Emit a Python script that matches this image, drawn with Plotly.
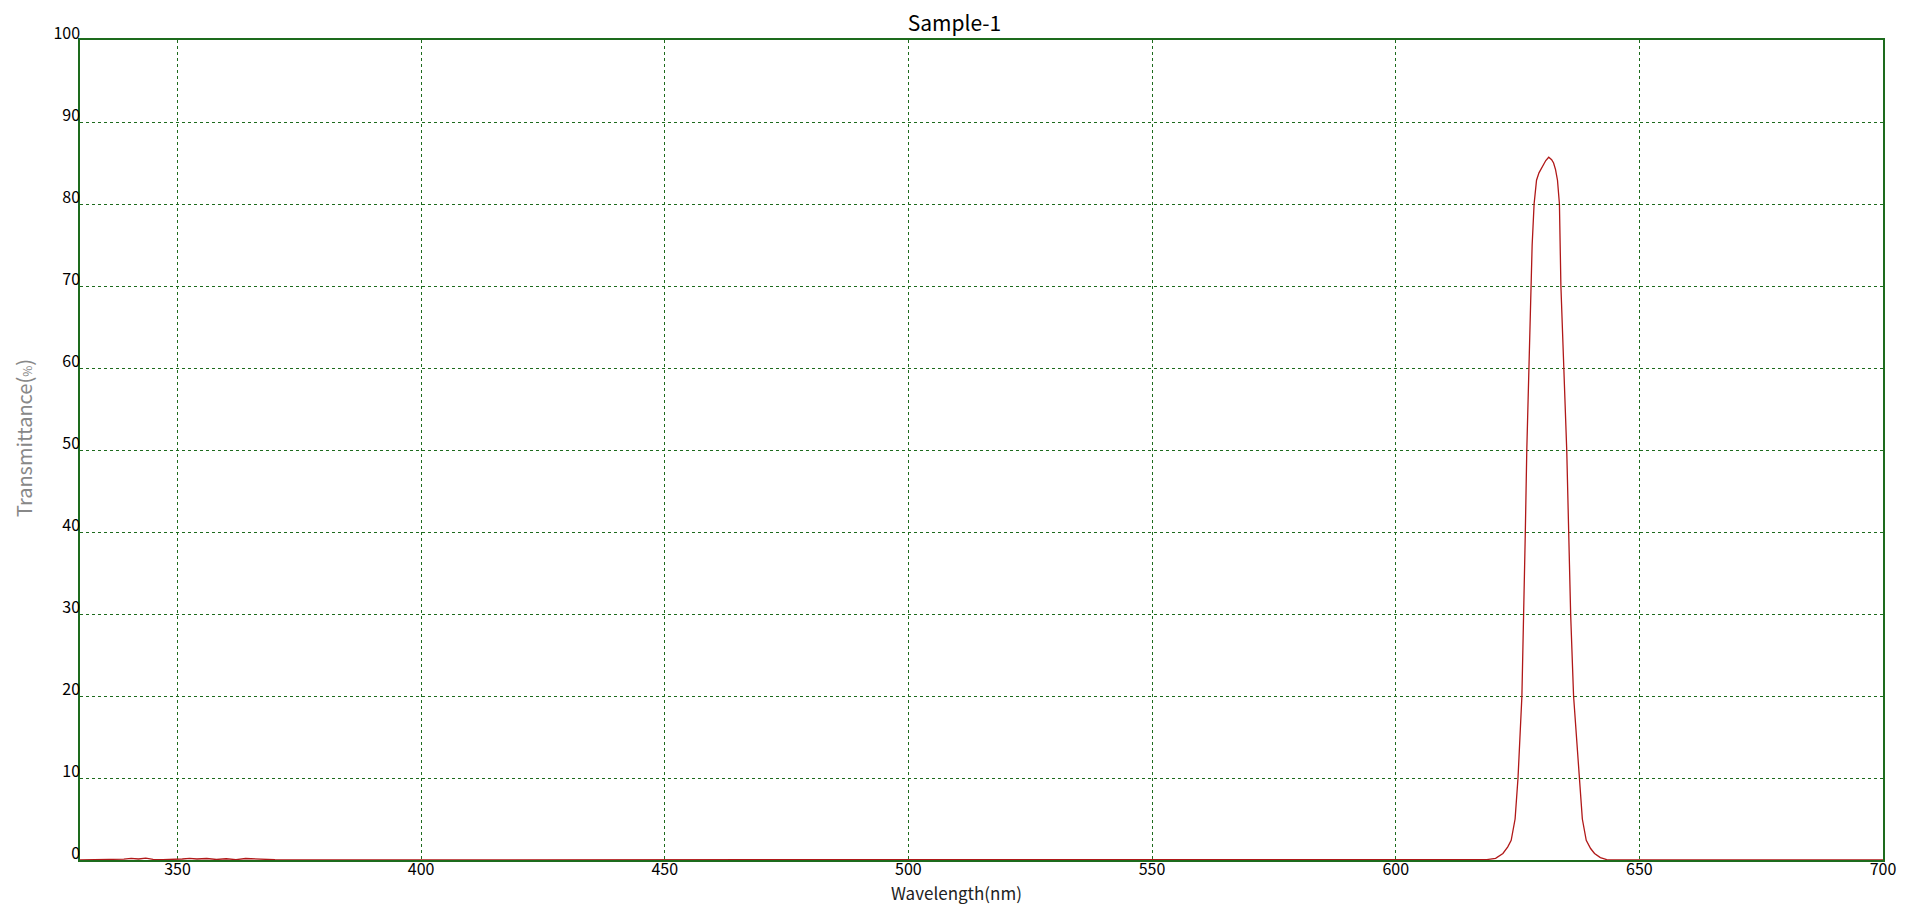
import plotly.graph_objects as go

# wavelength (nm) and transmittance (%)
wavelength = [330, 336, 339, 340.5, 342, 343.5, 345, 347, 349, 351, 352.5, 354, 356, 358, 360, 362, 364,
              366, 368, 370, 380, 450, 550, 600, 615, 618.7, 620.5, 622.0, 623.0, 623.7, 624.5,
              625.1, 625.9, 626.3, 626.6, 626.9, 627.35, 627.7, 628.0, 628.4, 628.9, 629.4, 629.9,
              630.4, 630.8, 631.4, 632.0, 632.4, 632.8, 633.2, 633.6, 633.9, 634.5, 635.1, 635.5,
              635.9, 636.5, 637.6, 638.3, 639.1, 640.0, 640.8, 642.0, 643.3, 650, 680, 700]
transmittance = [0.02, 0.03, 0.1, 0.2, 0.12, 0.22, 0.08, 0.04, 0.06, 0.12, 0.2, 0.12, 0.18, 0.06, 0.15,
                 0.04, 0.18, 0.12, 0.06, 0.03, 0.02, 0.02, 0.02, 0.02, 0.03, 0.05, 0.2, 0.8, 1.6,
                 2.4, 5, 10, 20, 30, 40, 50, 60, 70, 75, 80, 82.9, 83.8, 84.4, 84.9, 85.3, 85.7, 85.4,
                 85.0, 84.2, 82.9, 80, 70, 60, 50, 40, 30, 20, 10, 5, 2.4, 1.4, 0.8, 0.3, 0.05, 0.02,
                 0.02, 0.02]

x_ticks = [350, 400, 450, 500, 550, 600, 650, 700]
y_ticks = [0, 10, 20, 30, 40, 50, 60, 70, 80, 90, 100]

green = "#1d6b1d"
font = "Noto Sans CJK SC"

fig = go.Figure()
fig.add_trace(go.Scatter(x=wavelength, y=transmittance, mode="lines",
                         line=dict(color="#b01818", width=1.3), showlegend=False))

# the page body adds an 8px margin, so the figure is a bit smaller than the window
fig.update_layout(
    width=1893, height=896,
    margin=dict(l=72, r=18, t=32, b=44),
    paper_bgcolor="white", plot_bgcolor="white",
    font=dict(family=font, color="black", size=16),
    title=dict(text="Sample-1", x=0.5, xanchor="center", y=0.983, yanchor="middle",
               font=dict(size=21, family=font)),
)
fig.update_xaxes(
    range=[330, 700], tickvals=x_ticks, ticks="", automargin=False,
    showgrid=True, gridcolor=green, griddash="3px,3px", gridwidth=1,
    showline=True, linecolor=green, linewidth=1.5, mirror=True, zeroline=False,
    tickfont=dict(size=16), ticklabelstandoff=-6,
)
fig.update_yaxes(
    range=[0, 100], tickvals=y_ticks, ticks="", automargin=False,
    showgrid=True, gridcolor=green, griddash="3px,3px", gridwidth=1,
    showline=True, linecolor=green, linewidth=1.5, mirror=True, zeroline=False,
    tickfont=dict(size=16), ticklabelshift=-7, ticklabelstandoff=-5,
)

# axis titles placed as annotations so the margins stay fixed
fig.add_annotation(text="Wavelength(nm)", xref="paper", yref="paper", x=0.5, y=0,
                   xshift=-25, yshift=-32, xanchor="center", yanchor="middle", showarrow=False,
                   font=dict(size=17, color="#222222"))
fig.add_annotation(text="Transmittance(<span style='font-size:12px'>%</span>)", xref="paper",
                   yref="paper", x=0, y=0.5, xshift=-57, yshift=12, textangle=-90,
                   xanchor="center", yanchor="middle", showarrow=False,
                   font=dict(size=20, color="#888888"))

fig.write_html("out.html")
